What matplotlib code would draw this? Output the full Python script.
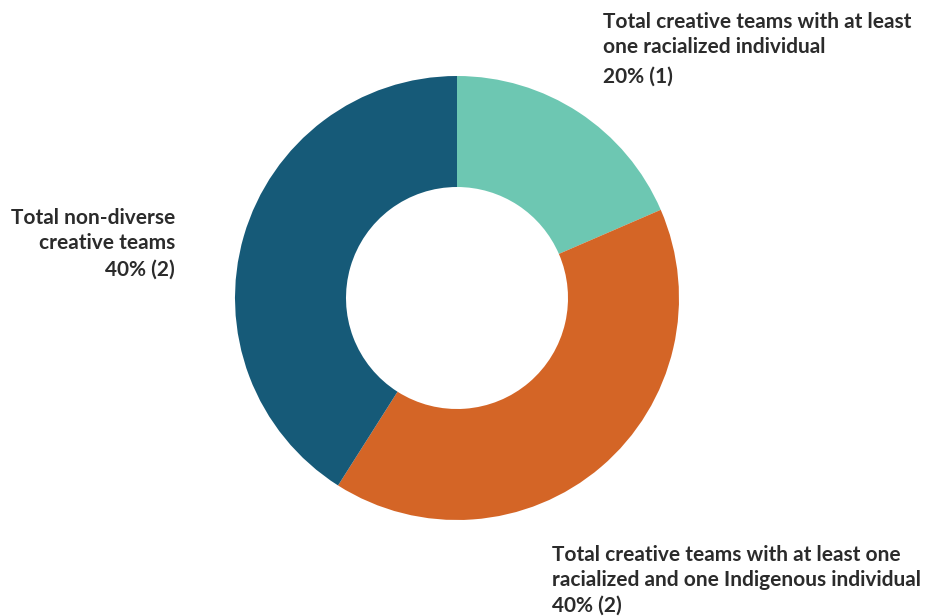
import matplotlib
matplotlib.use("Agg")
import matplotlib.pyplot as plt

categories = ["Total creative teams with at least\none racialized individual",
              "Total creative teams with at least one\nracialized and one Indigenous individual",
              "Total non-diverse\ncreative teams"]
counts = [1, 2, 2]
percent_labels = ["20% (1)", "40% (2)", "40% (2)"]
# slice shares as drawn in the reference picture
slice_shares = [18.5, 40.5, 41.0]
colors = ["#6DC7B2", "#D46526", "#165A78"]

W, H = 938, 616
fig = plt.figure(figsize=(W/100, H/100), dpi=100)
cx, cy, r = 457, 298, 222
ax = fig.add_axes([(cx - r)/W, (H - cy - r)/H, 2*r/W, 2*r/H])
ax.pie(slice_shares, colors=colors, startangle=90, counterclock=False, radius=1,
       wedgeprops=dict(width=0.5, edgecolor="none"))
ax.set_xlim(-1, 1); ax.set_ylim(-1, 1)
ax.set_aspect("equal")
ax.axis("off")

font = dict(family=["Lato", "DejaVu Sans"], weight="bold", fontsize=15, color="#2b2b2b")

def put(x, y, s, ha, **kw):
    fig.text(x/W, 1 - y/H, s, ha=ha, va="center", linespacing=1.37, **font, **kw)

# top-right
put(603, 34.5, categories[0], "left")
put(603, 77, percent_labels[0], "left")
# bottom
put(552, 567.5, categories[1], "left")
put(552, 606, percent_labels[1], "left")
# left
put(175, 230.5, categories[2], "right", multialignment="right")
put(175, 270, percent_labels[2], "right")

fig.savefig("out.png", dpi=100, facecolor="white")
